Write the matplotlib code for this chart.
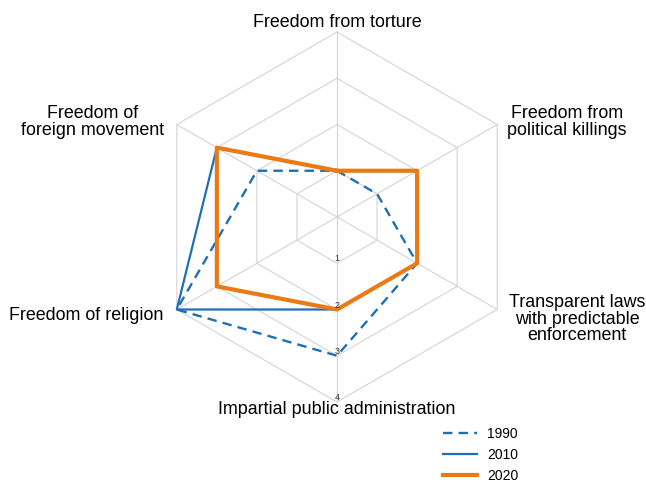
import matplotlib.pyplot as plt
import numpy as np

plt.rcParams['font.family'] = ['Liberation Sans', 'DejaVu Sans']

# axes, clockwise from the top
categories = ['Freedom from torture',
              'Freedom from\npolitical killings',
              'Transparent laws\nwith predictable\nenforcement',
              'Impartial public administration',
              'Freedom of religion',
              'Freedom of\nforeign movement']
values_1990 = [1, 1, 2, 3, 4, 2]
values_2010 = [1, 2, 2, 2, 4, 3]
values_2020 = [1, 2, 2, 2, 3, 3]
years = ['1990', '2010', '2020']
levels = [1, 2, 3, 4]

BLUE = '#1f6fb4'
ORANGE = '#eb7a14'
GRID = '#d4d4d4'

angles = np.deg2rad(90 - 60 * np.arange(len(categories)))


def polygon(vals):
    r = np.append(vals, vals[0])
    a = np.append(angles, angles[0])
    return r * np.cos(a), r * np.sin(a)


fig = plt.figure(figsize=(6.46, 4.83), dpi=100)
ax = fig.add_axes([0, 0, 1, 1])
unit = 46.25  # pixels per level
ax.set_xlim(-337 / unit, 309 / unit)
ax.set_ylim(-266 / unit, 217 / unit)
ax.axis('off')

# hexagonal grid and spokes
for lev in levels:
    x, y = polygon(np.full(len(categories), lev))
    ax.plot(x, y, color=GRID, lw=0.8, zorder=1)
for a in angles:
    ax.plot([0, max(levels) * np.cos(a)], [0, max(levels) * np.sin(a)],
            color=GRID, lw=0.8, zorder=1)

# level labels along the bottom spoke
for lev in levels:
    ax.text(0, -lev, str(lev), ha='center', va='bottom', fontsize=6.5,
            color='#333333', zorder=5)

x, y = polygon(values_1990)
ax.plot(x, y, color=BLUE, lw=1.7, ls=(0, (4, 2.6)), label=years[0], zorder=2)
x, y = polygon(values_2010)
ax.plot(x, y, color=BLUE, lw=1.6, label=years[1], zorder=3)
x, y = polygon(values_2020)
ax.plot(x, y, color=ORANGE, lw=3.0, label=years[2], zorder=4)

# category labels
fs = 12.9
ax.text(0, 4.20, categories[0], ha='center', va='center', fontsize=fs)
ax.text(4.97, 2.05, categories[1], ha='center', va='center', fontsize=fs,
        linespacing=0.97)
ax.text(5.19, -2.21, categories[2], ha='center', va='center', fontsize=fs,
        linespacing=0.97)
ax.text(0, -4.17, categories[3], ha='center', va='center', fontsize=fs)
ax.text(-3.75, -2.14, categories[4], ha='right', va='center', fontsize=fs)
ax.text(-5.28, 2.05, categories[5], ha='center', va='center', fontsize=fs,
        linespacing=0.97)

ax.legend(loc='upper left', bbox_to_anchor=(443 / 646, 1 - 427 / 483),
          bbox_transform=fig.transFigure, frameon=False, fontsize=10,
          handlelength=2.45, handletextpad=0.7, labelspacing=0.5,
          borderpad=0, borderaxespad=0)

fig.savefig('out.png', dpi=100)
